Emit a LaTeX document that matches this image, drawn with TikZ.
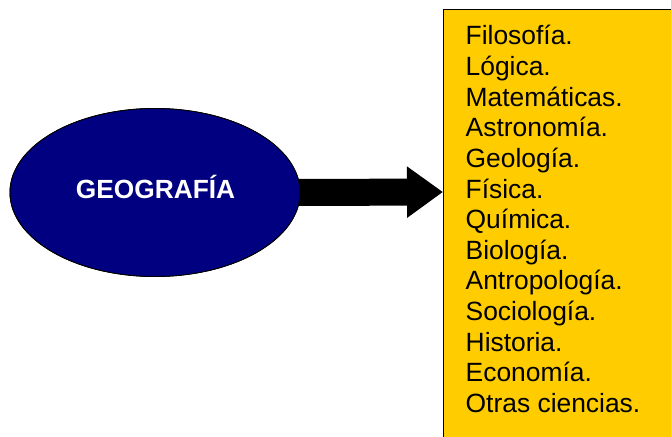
\documentclass[tikz,border=0pt]{standalone}
\usepackage{fontspec}
\setmainfont{Liberation Sans}
\usetikzlibrary{shapes.geometric,arrows.meta}
\definecolor{navyfill}{RGB}{0,0,128}
\definecolor{boxyellow}{RGB}{255,204,0}
\tikzset{
  ellnode/.style={ellipse, draw=black, line width=0.9pt, fill=navyfill, minimum width=290pt, minimum height=168pt, inner sep=0pt},
  ellabel/.style={anchor=base, inner sep=0pt, text=white, font=\bfseries\fontsize{26.3}{30}\selectfont},
  listbox/.style={draw=black, line width=0.9pt, fill=boxyellow},
  itemtext/.style={anchor=base west, inner sep=0pt, font=\fontsize{26.4}{30.6}\selectfont},
  bigarrow/.style={line width=27pt, -{Triangle[width=49pt,length=36pt]}}
}
\begin{document}
\begin{tikzpicture}[x=1pt,y=-1pt]
\useasboundingbox (0,0) rectangle (671,436);
\clip (0,0) rectangle (671,436);
\fill[listbox] (443,9) rectangle (690,460);
\coordinate (tip) at (443,192);
\node[ellnode] (geo) at (155,192.5) {};
\draw[bigarrow] ([xshift=-6pt]geo.east) -- (tip);
\node[ellnode] (geo2) at (155,192.5) {};
\node[ellabel] (geolabel) at (155.5,198) {GEOGRAFÍA};
\foreach \t [count=\i from 0] in {Filosofía., Lógica., Matemáticas., Astronomía., Geología., Física., Química., Biología., Antropología., Sociología., Historia., Economía., Otras ciencias.}{
  \node[itemtext] (l\i) at (465.5,{45+30.6*\i}) {\t};
}
\end{tikzpicture}
\end{document}
